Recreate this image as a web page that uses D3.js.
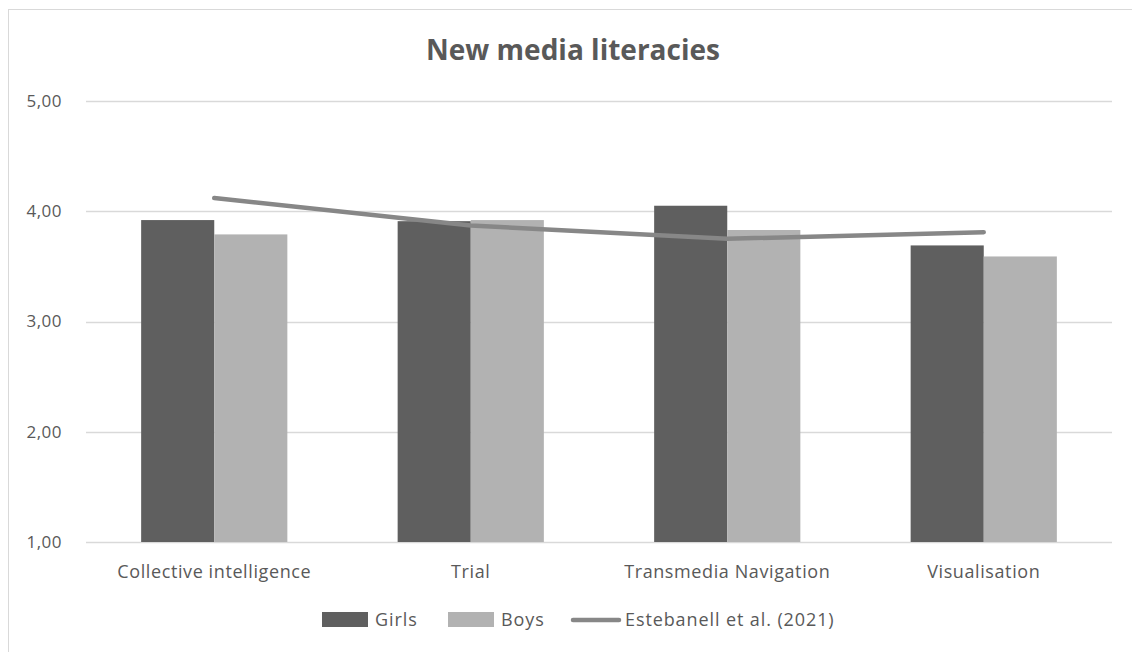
<!DOCTYPE html>
<html>
<head>
<meta charset="utf-8">
<script src="https://cdn.jsdelivr.net/npm/d3@7"></script>
<style>
  body { margin: 0; background: #fff; font-family: "Open Sans", sans-serif; }
  #chart svg { display: block; }
</style>
</head>
<body>
<div id="chart"></div>
<script>
// chart data
const categories = ["Collective intelligence", "Trial", "Transmedia Navigation", "Visualisation"];
const girls = [3.92, 3.91, 4.05, 3.69];
const boys = [3.79, 3.92, 3.83, 3.59];
const estebanell = [4.12, 3.87, 3.75, 3.81];
const yTicks = [1, 2, 3, 4, 5];
const seriesNames = ["Girls", "Boys", "Estebanell et al. (2021)"];

const W = 1132, H = 652;
const margin = {top: 101, right: 20, bottom: 110, left: 86};
const colors = {girls: "#5f5f5f", boys: "#b2b2b2", line: "#878787", text: "#595959", grid: "#d9d9d9"};

const svg = d3.select("#chart").append("svg")
    .attr("width", W)
    .attr("height", H);

// outer chart frame (cropped at right / bottom)
svg.append("rect")
    .attr("x", 8.5).attr("y", 9.5)
    .attr("width", W + 10).attr("height", H + 10)
    .attr("fill", "none")
    .attr("stroke", "#d9d9d9");

// title
svg.append("text")
    .attr("x", 573).attr("y", 60)
    .attr("text-anchor", "middle")
    .attr("font-size", 28)
    .attr("font-weight", "bold")
    .attr("fill", colors.text)
    .text("New media literacies");

const plotW = W - margin.left - margin.right;
const plotH = 542 - margin.top;

const g = svg.append("g")
    .attr("transform", "translate(" + margin.left + "," + margin.top + ")");

const x = d3.scaleBand()
    .domain(categories)
    .range([0, plotW])
    .paddingInner(0.43)
    .paddingOuter(0.215);

const x1 = d3.scaleBand()
    .domain(["girls", "boys"])
    .range([0, x.bandwidth()]);

const y = d3.scaleLinear()
    .domain([1, 5])
    .range([plotH, 0]);

// gridlines
g.selectAll(".grid")
    .data(yTicks)
    .enter().append("line")
    .attr("class", "grid")
    .attr("x1", 0).attr("x2", plotW)
    .attr("y1", d => Math.round(y(d)) + 0.5)
    .attr("y2", d => Math.round(y(d)) + 0.5)
    .attr("stroke", colors.grid)
    .attr("stroke-width", 1.3);

// y axis labels
const yAxis = d3.axisLeft(y)
    .tickValues(yTicks)
    .tickSize(0)
    .tickPadding(24)
    .tickFormat(d => d3.format(".2f")(d).replace(".", ","));

g.append("g")
    .call(yAxis)
    .call(a => a.select(".domain").remove())
    .selectAll("text")
    .attr("font-family", "Open Sans, sans-serif")
    .attr("font-size", 17)
    .attr("letter-spacing", 0.5)
    .attr("fill", colors.text);

// bars
const rows = categories.map((c, i) => ({cat: c, girls: girls[i], boys: boys[i]}));

const groups = g.selectAll(".group")
    .data(rows)
    .enter().append("g")
    .attr("class", "group")
    .attr("transform", d => "translate(" + x(d.cat) + ",0)");

groups.selectAll("rect")
    .data(d => ["girls", "boys"].map(k => ({key: k, value: d[k]})))
    .enter().append("rect")
    .attr("x", d => x1(d.key))
    .attr("y", d => y(d.value))
    .attr("width", x1.bandwidth())
    .attr("height", d => y(1) - y(d.value))
    .attr("fill", d => colors[d.key]);

// Estebanell line through the category centres
const line = d3.line()
    .x((d, i) => x(categories[i]) + x.bandwidth() / 2)
    .y(d => y(d));

g.append("path")
    .datum(estebanell)
    .attr("d", line)
    .attr("fill", "none")
    .attr("stroke", colors.line)
    .attr("stroke-width", 4.5)
    .attr("stroke-linecap", "round")
    .attr("stroke-linejoin", "round");

// category labels
const xAxis = d3.axisBottom(x).tickSize(0).tickPadding(23);
g.append("g")
    .attr("transform", "translate(0," + plotH + ")")
    .call(xAxis)
    .call(a => a.select(".domain").remove())
    .selectAll("text")
    .attr("font-family", "Open Sans, sans-serif")
    .attr("font-size", 18)
    .attr("letter-spacing", 0.6)
    .attr("fill", colors.text);

// legend
const legend = svg.append("g").attr("transform", "translate(0,620)");
const legendItems = [
    {name: seriesNames[0], type: "rect", color: colors.girls, x: 322},
    {name: seriesNames[1], type: "rect", color: colors.boys, x: 448},
    {name: seriesNames[2], type: "line", color: colors.line, x: 571}
];

legendItems.forEach(it => {
    if (it.type === "rect") {
        legend.append("rect")
            .attr("x", it.x).attr("y", -8)
            .attr("width", 46).attr("height", 15)
            .attr("fill", it.color);
    } else {
        legend.append("line")
            .attr("x1", it.x + 2).attr("x2", it.x + 48)
            .attr("y1", 0).attr("y2", 0)
            .attr("stroke", it.color)
            .attr("stroke-width", 4.5)
            .attr("stroke-linecap", "round");
    }
    legend.append("text")
        .attr("x", it.x + (it.type === "rect" ? 53 : 54))
        .attr("y", 0)
        .attr("dy", "0.35em")
        .attr("font-size", 18)
        .attr("letter-spacing", 0.9)
        .attr("fill", colors.text)
        .text(it.name);
});
</script>
</body>
</html>
